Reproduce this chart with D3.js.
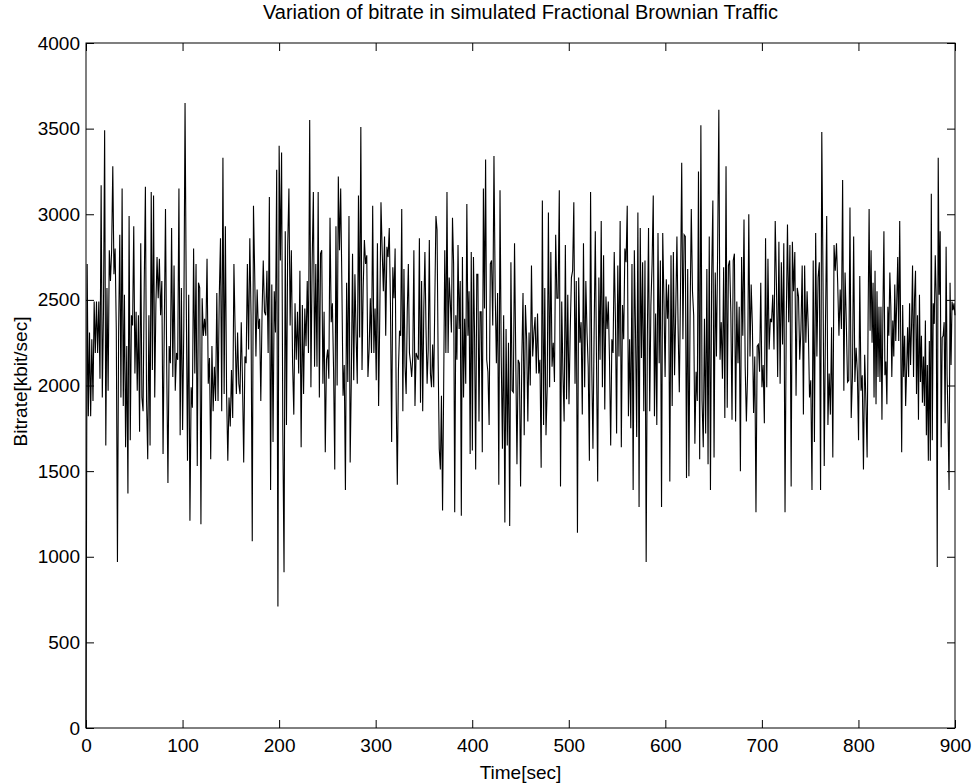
<!DOCTYPE html>
<html>
<head>
<meta charset="utf-8">
<script src="https://cdn.jsdelivr.net/npm/d3@7/dist/d3.min.js"></script>
<style>
  body { margin: 0; background: #fff; }
  text { font-family: "Liberation Sans", Arial, Helvetica, sans-serif; fill: #000; }
</style>
</head>
<body>
<div id="chart"></div>
<script>
// Lecturas del gráfico, por tramos de tiempo (segundos)
const sectionBounds = [0, 76, 157, 238, 319, 415, 514, 612, 710, 809, 900];

const seg0 = [0,2710,1820,2310,1820,2270,1910,2490,2190,2490,2190,2490,2040,3170,1930,2430,3490,1650,2570,1970,2790,2610,2790,3280,2650,2800,2330,970,2310,2880,1930,3150,1880,2530,1640,2230,1370,2990,1680,2410,2350,2930,2070,2430,1970,2410,1730,2830,1930,1850,2590,3160,1910,1570,2410,1650,3130,2090,3110,1930,2470,2750,2510];
const seg1 = [2740,2410,2610,1600,2330,3030,2110,1430,2230,2130,2920,2050,2700,1970,2190,2150,3150,1710,2570,1740,2350,3650,2510,1560,2530,1210,1990,1870,2800,2070,2710,1530,2600,2570,1190,2510,2290,2390,2290,2740,2010,2160,1570,2230,1850,2110,1910,2540,1910,2520,2860,1850,3330,1950,2930,1950,1560,1930,1760,2090,1810,2710,2310,1950];
const seg2 = [2310,2010,1950,2370,2030,1550,2170,2130,2710,2210,2860,2410,1090,3050,2650,2170,2560,2330,2390,1910,2410,2730,2430,2410,2670,2190,3100,1390,2590,1670,2550,2310,3260,710,3400,2730,3360,1740,910,2900,1770,2810,3150,2350,2790,2130,1830,2480,2150,2430,2070,2670,1640,2470,1950,2450,2230,2610,2190,3550,1990,2710,3130,2110];
const seg3 = [2710,2110,3130,1930,2770,2790,2010,2430,1610,2150,2210,2040,2980,2370,2480,2090,1510,2930,2000,3220,2790,3150,2590,1940,2120,1390,2600,2020,2990,1550,2050,2770,2030,2650,2290,2010,3110,2280,3510,2090,2570,2850,2710,2760,2050,2210,2510,2190,3050,2190,2450,2030,2830,1880,2410,3070,2790,2550,2870,2290,2810,2750,2920,2470,1670,2690];
const seg4 = [2510,2800,1910,1420,2090,2320,2290,3030,1850,2680,2110,1950,2430,2710,2190,2130,2050,2170,2790,1880,2190,2170,2150,2860,1900,2610,1850,2450,2780,2330,2010,2210,2850,2070,1990,2240,1990,2510,2990,2910,2150,1630,1510,1940,1270,1990,2790,2190,3130,2190,2630,2490,2310,2980,2710,1260,2410,2150,2820,2330,2610,1240,2750,1930,2390,2010,3060,2290,2550,1600,2780,1620,2750,2290,1510,2650,2650,1790,2430,2430,1610,3150,2450,3320];
const seg5 = [2150,2080,1770,2710,2730,2350,3340,2550,2130,2540,1420,3140,2170,1630,2410,1200,2330,1650,2250,1180,2720,1970,1960,2830,2170,1540,2150,2130,1410,2150,2540,1710,2470,2270,1790,2310,2000,2700,2170,2310,2400,2070,2420,2070,2150,1520,3080,1770,2570,1710,1990,3010,1990,2780,2110,2250,2020,2880,2510,2510,3140,1410,2490,2070,1790,2820,1920,2530,1890,2310,2630,2670,3070,2010,2610,1140,2630,2250,2370];
const seg6 = [1830,2830,1990,2610,2310,2110,1560,3130,2110,1630,2310,2900,2150,1440,2630,2150,2960,1990,2760,1860,2520,2330,2490,2150,1650,2270,2190,2780,2390,1720,2700,2170,2960,1640,2470,2270,2800,2720,3050,1820,2270,1750,2710,1390,2790,2310,1700,3010,1290,2920,2160,2720,1850,2730,970,2290,2920,1850,2470,2710,3110,1820,2420,1770,2890,2130,2730,1290,2890,2510,2050,2620,2390,2590,1440,2760,1880,2780,2060,2430];
const seg7 = [2870,2330,1960,2550,3300,2270,2880,2870,1460,2680,1470,2420,3030,2550,2410,1660,2080,1910,3250,1570,3520,1910,1640,2390,1720,2680,1540,2870,1390,2630,3080,1580,2660,2170,2790,3610,2150,2370,2040,2690,1810,3280,1870,2700,2730,2430,1800,2730,2770,1790,2490,2130,2460,1500,2750,2290,2970,2110,1790,2070,3000,2170,2590,2350,1840,2170,1260,2230,2240,2080,2600,1990,2120,1780,2860,1990,2740,2210,2390];
const seg8 = [2370,2530,2210,2960,2590,2050,2840,2010,2720,2240,2830,1260,2370,2940,2370,2820,1410,2840,2550,2780,1940,2570,2520,2150,2330,2700,1830,2700,2250,2550,2330,1930,2030,1390,2730,1670,2890,2170,2630,2720,1390,3480,2610,1530,2350,2990,1770,2070,1830,2340,1580,2820,2670,2830,2590,2290,2560,2330,3200,1970,2660,2370,2020,2030,3040,1810,2050,2870,2020,2220,2080,1680,2640,1970,2060,1510,2180,1910];
const seg9 = [1580,2410,3030,2320,2790,2250,2600,1930,2670,1890,2550,2050,2460,2020,2460,1800,2440,2900,2060,2140,1890,2460,2290,2660,2460,2050,2380,2170,2590,2260,2490,2750,2260,2960,2290,1610,2470,2050,2290,1880,2090,2340,2050,2480,2120,2350,2700,2050,2510,2670,1950,2410,1800,2530,2020,2290,1900,2170,1880,2380,1710,2120,1560,2260,1560,3120,1680,2480,2360,2760,2510,940,3330,2530,2900,1640,2280,2290,2370,1780,2810,2060,1780,1390,2600,2120,2490,2440,2480,2410];

const xTicks = [0, 100, 200, 300, 400, 500, 600, 700, 800, 900];
const yTicks = [0, 500, 1000, 1500, 2000, 2500, 3000, 3500, 4000];

const titleText = 'Variation of bitrate in simulated Fractional Brownian Traffic';
const xLabelText = 'Time[sec]';
const yLabelText = 'Bitrate[kbit/sec]';

// Tabla de puntos: cada tramo se reparte a lo largo de su intervalo de tiempo
const sections = [seg0, seg1, seg2, seg3, seg4, seg5, seg6, seg7, seg8, seg9];
let data = [];
sections.forEach(function(vals, k) {
    const t0 = sectionBounds[k], t1 = sectionBounds[k + 1];
    const isLast = k === sections.length - 1;
    const step = (t1 - t0) / (isLast ? vals.length - 1 : vals.length);
    vals.forEach(function(v, i) { data.push({ t: t0 + i * step, v: v }); });
});

const W = 979, H = 784;
const margin = { top: 43, right: 24, bottom: 56, left: 86 };

let svg = d3.select('#chart')
    .append('svg')
    .attr('width', W)
    .attr('height', H);

svg.append('rect').attr('width', W).attr('height', H).attr('fill', '#fff');

let x = d3.scaleLinear()
    .domain([0, 900])
    .range([margin.left, W - margin.right]);

let y = d3.scaleLinear()
    .domain([0, 4000])
    .range([H - margin.bottom, margin.top]);

const TICK = 8;
const fmt = d3.format('d');

// Ejes con marcas hacia dentro, como en MATLAB
svg.append('g')
    .attr('transform', 'translate(0,' + y(0) + ')')
    .call(d3.axisBottom(x).tickValues(xTicks).tickFormat(fmt).tickSizeInner(-TICK).tickSizeOuter(0).tickPadding(11));

svg.append('g')
    .attr('transform', 'translate(' + x(0) + ',0)')
    .call(d3.axisLeft(y).tickValues(yTicks).tickFormat(fmt).tickSizeInner(-TICK).tickSizeOuter(0).tickPadding(6));

svg.append('g')
    .attr('transform', 'translate(0,' + y(4000) + ')')
    .call(d3.axisTop(x).tickValues(xTicks).tickSizeInner(-TICK).tickSizeOuter(0).tickFormat(''));

svg.append('g')
    .attr('transform', 'translate(' + x(900) + ',0)')
    .call(d3.axisRight(y).tickValues(yTicks).tickSizeInner(-TICK).tickSizeOuter(0).tickFormat(''));

svg.selectAll('.domain').remove();
svg.selectAll('.tick line').attr('stroke', '#000').attr('stroke-width', 1);
svg.selectAll('.tick text')
    .attr('font-size', 19)
    .attr('font-family', '"Liberation Sans", Arial, sans-serif');

// Serie
let line = d3.line()
    .x(function(d) { return x(d.t); })
    .y(function(d) { return y(d.v); });

svg.append('path')
    .datum(data)
    .attr('fill', 'none')
    .attr('stroke', '#000')
    .attr('stroke-width', 1.1)
    .attr('d', line);

// Marco
svg.append('rect')
    .attr('x', x(0))
    .attr('y', y(4000))
    .attr('width', x(900) - x(0))
    .attr('height', y(0) - y(4000))
    .attr('fill', 'none')
    .attr('stroke', '#000')
    .attr('stroke-width', 1);

// Textos
svg.append('text')
    .attr('x', (x(0) + x(900)) / 2)
    .attr('y', 19)
    .attr('text-anchor', 'middle')
    .attr('font-size', 20)
    .text(titleText);

svg.append('text')
    .attr('x', (x(0) + x(900)) / 2)
    .attr('y', 779)
    .attr('text-anchor', 'middle')
    .attr('font-size', 19)
    .text(xLabelText);

svg.append('text')
    .attr('transform', 'translate(27,' + ((y(0) + y(4000)) / 2 - 4) + ') rotate(-90)')
    .attr('text-anchor', 'middle')
    .attr('font-size', 19)
    .text(yLabelText);
</script>
</body>
</html>
